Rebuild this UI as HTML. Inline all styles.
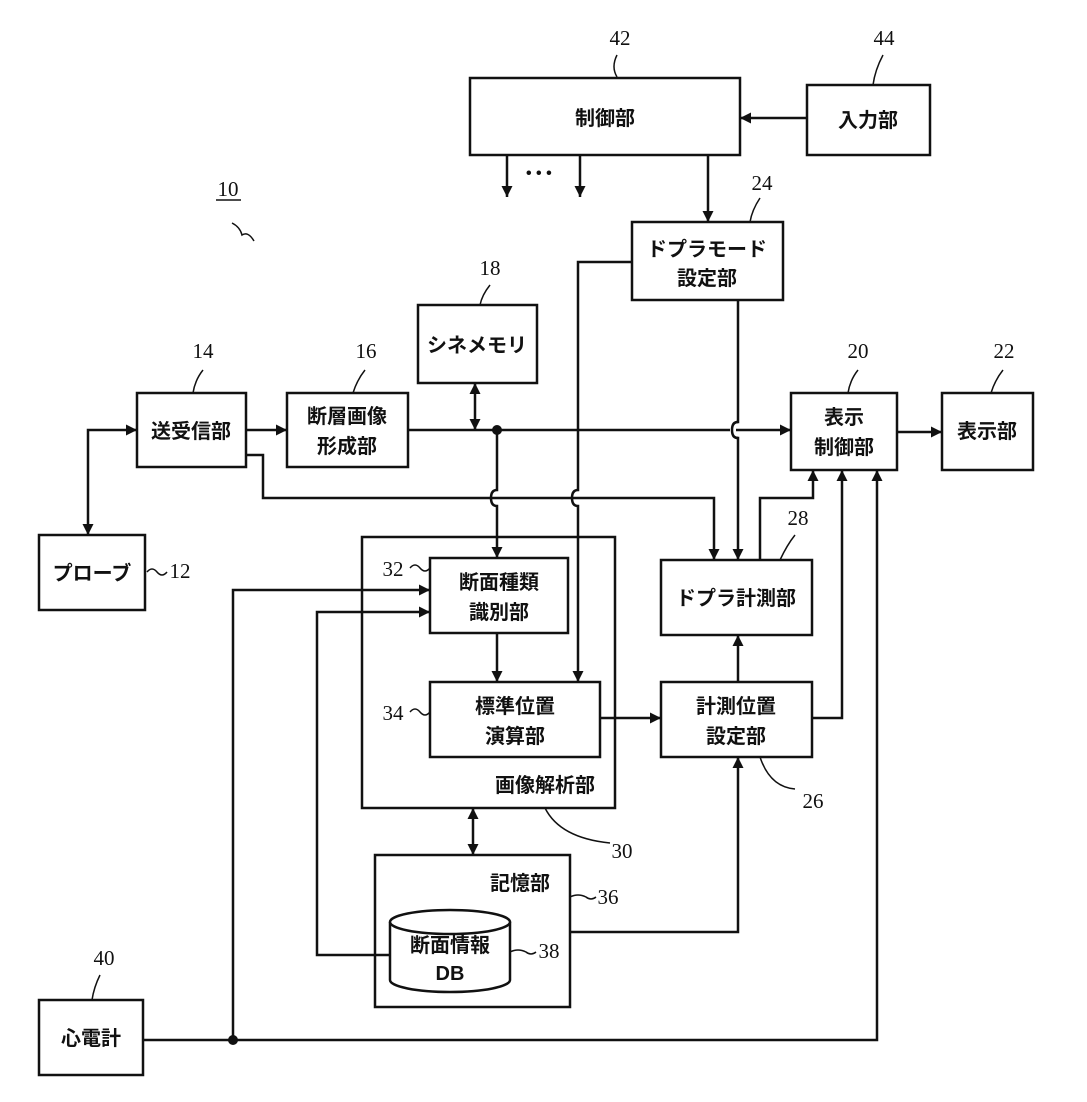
<!DOCTYPE html>
<html><head><meta charset="utf-8"><style>
html,body{margin:0;padding:0;background:#fff}
svg{display:block}
.j{font-family:"Liberation Sans","Noto Sans CJK JP",sans-serif;font-size:20px;font-weight:bold;fill:#111}
.n{font-family:"Liberation Serif",serif;font-size:21px;fill:#111}
</style></head><body>
<svg width="1087" height="1102" viewBox="0 0 1087 1102" xmlns="http://www.w3.org/2000/svg">
<defs>
<marker id="a" viewBox="0 0 10 10" refX="10" refY="5" markerWidth="13" markerHeight="11" orient="auto-start-reverse" markerUnits="userSpaceOnUse"><path d="M0,0L10,5L0,10z" fill="#111"/></marker>
</defs>
<style>.b{fill:#fff;stroke:#111;stroke-width:2.5}.l{fill:none;stroke:#111;stroke-width:2.5}.t{fill:none;stroke:#111;stroke-width:1.5}</style>
<rect class="b" x="470" y="78" width="270" height="77"/>
<rect class="b" x="807" y="85" width="123" height="70"/>
<rect class="b" x="632" y="222" width="151" height="78"/>
<rect class="b" x="418" y="305" width="119" height="78"/>
<rect class="b" x="137" y="393" width="109" height="74"/>
<rect class="b" x="287" y="393" width="121" height="74"/>
<rect class="b" x="791" y="393" width="106" height="77"/>
<rect class="b" x="942" y="393" width="91" height="77"/>
<rect class="b" x="39" y="535" width="106" height="75"/>
<rect class="b" x="362" y="537" width="253" height="271"/>
<rect class="b" x="430" y="558" width="138" height="75"/>
<rect class="b" x="430" y="682" width="170" height="75"/>
<rect class="b" x="661" y="560" width="151" height="75"/>
<rect class="b" x="661" y="682" width="151" height="75"/>
<rect class="b" x="375" y="855" width="195" height="152"/>
<rect class="b" x="39" y="1000" width="104" height="75"/>
<path class="b" d="M390,922 L390,980 A60,12 0 0 0 510,980 L510,922"/>
<ellipse class="b" cx="450" cy="922" rx="60" ry="12"/>
<g class="l">
<path d="M807,118 H740" marker-end="url(#a)"/>
<path d="M507,155 V197" marker-end="url(#a)"/>
<path d="M580,155 V197" marker-end="url(#a)"/>
<path d="M708,155 V222" marker-end="url(#a)"/>
<path d="M246,430 H287" marker-end="url(#a)"/>
<path d="M137,430 H88 V535" marker-start="url(#a)" marker-end="url(#a)"/>
<path d="M475,383 V430" marker-start="url(#a)" marker-end="url(#a)"/>
<path d="M408,430 H791" marker-end="url(#a)"/>
<path d="M497,430 V490 q-6,0 -6,8 q0,8 6,8 V558" marker-end="url(#a)"/>
<path d="M246,455 H263 V498 H714 V560" marker-end="url(#a)"/>
<path d="M632,262 H578 V490 q-6,0 -6,8 q0,8 6,8 V682" marker-end="url(#a)"/>
<path d="M738,300 V422 q-6,0 -6,8 q0,8 6,8 V560" marker-end="url(#a)"/>
<path d="M760,560 V498 H813 V470" marker-end="url(#a)"/>
<path d="M812,718 H842 V470" marker-end="url(#a)"/>
<path d="M738,682 V635" marker-end="url(#a)"/>
<path d="M600,718 H661" marker-end="url(#a)"/>
<path d="M497,633 V682" marker-end="url(#a)"/>
<path d="M473,808 V855" marker-start="url(#a)" marker-end="url(#a)"/>
<path d="M570,932 H738 V757" marker-end="url(#a)"/>
<path d="M390,955 H317 V612 H430" marker-end="url(#a)"/>
<path d="M143,1040 H877 V470" marker-end="url(#a)"/>
<path d="M233,1040 V590 H430" marker-end="url(#a)"/>
<path d="M897,432 H942" marker-end="url(#a)"/>
</g>
<rect x="730" y="424" width="6" height="12" fill="#fff"/>
<path class="l" d="M738,422 q-6,0 -6,8 q0,8 6,8"/>
<circle cx="497" cy="430" r="5" fill="#111"/>
<circle cx="233" cy="1040" r="5" fill="#111"/>
<text x="526" y="178" class="j" style="font-size:16px">• • •</text>
<g class="t">
<path d="M617,55 q-6,12 0,22"/>
<path d="M883,55 q-8,15 -10,30"/>
<path d="M760,198 q-8,12 -10,24"/>
<path d="M490,285 q-8,10 -10,20"/>
<path d="M203,370 q-8,10 -10,23"/>
<path d="M365,370 q-8,10 -12,23"/>
<path d="M858,370 q-8,10 -10,23"/>
<path d="M1003,370 q-8,10 -12,23"/>
<path d="M147,572 q5,-6 10,0 q5,6 10,0"/>
<path d="M410,568 q5,-6 10,0 q5,6 10,0"/>
<path d="M410,712 q5,-6 10,0 q5,6 10,0"/>
<path d="M795,535 q-8,10 -15,25"/>
<path d="M760,757 q10,30 35,32"/>
<path d="M545,808 q15,30 65,35"/>
<path d="M570,897 q8,-4 16,0 q5,4 10,0"/>
<path d="M510,952 q8,-4 16,0 q5,4 10,0"/>
<path d="M100,975 q-6,12 -8,25"/>
<path d="M232,223 q8,4 10,12 q6,-4 12,6"/>
</g>
<g class="j" text-anchor="middle">
<text x="605" y="125">制御部</text>
<text x="868" y="127">入力部</text>
<text x="707" y="256">ドプラモード</text>
<text x="707" y="285">設定部</text>
<text x="477" y="352">シネメモリ</text>
<text x="191" y="438">送受信部</text>
<text x="347" y="423">断層画像</text>
<text x="347" y="453">形成部</text>
<text x="844" y="424">表示</text>
<text x="844" y="454">制御部</text>
<text x="987" y="438">表示部</text>
<text x="92" y="580">プローブ</text>
<text x="499" y="589">断面種類</text>
<text x="499" y="619">識別部</text>
<text x="515" y="713">標準位置</text>
<text x="515" y="743">演算部</text>
<text x="736" y="605">ドプラ計測部</text>
<text x="736" y="713">計測位置</text>
<text x="736" y="743">設定部</text>
<text x="545" y="792">画像解析部</text>
<text x="520" y="890">記憶部</text>
<text x="450" y="952">断面情報</text>
<text x="450" y="980">DB</text>
<text x="91" y="1045">心電計</text>
</g>
<g class="n" text-anchor="middle">
<text x="620" y="45">42</text>
<text x="884" y="45">44</text>
<text x="762" y="190">24</text>
<text x="490" y="275">18</text>
<text x="203" y="358">14</text>
<text x="366" y="358">16</text>
<text x="858" y="358">20</text>
<text x="1004" y="358">22</text>
<text x="180" y="578">12</text>
<text x="393" y="576">32</text>
<text x="393" y="720">34</text>
<text x="798" y="525">28</text>
<text x="813" y="808">26</text>
<text x="622" y="858">30</text>
<text x="608" y="904">36</text>
<text x="549" y="958">38</text>
<text x="104" y="965">40</text>
<text x="228" y="196">10</text>
</g>
<line x1="216" y1="200" x2="241" y2="200" stroke="#111" stroke-width="1.5"/>
</svg>
</body></html>
